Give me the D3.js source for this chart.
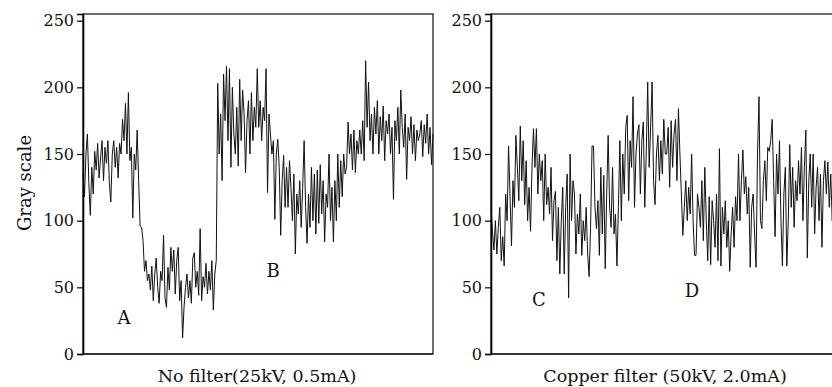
<!DOCTYPE html>
<html>
<head>
<meta charset="utf-8">
<script src="https://cdn.jsdelivr.net/npm/d3@7"></script>
<style>
  body { margin: 0; background: #fff; }
  svg { display: block; }
  text { font-family: "DejaVu Serif", "Liberation Serif", serif; fill: #111; }
</style>
</head>
<body>
<svg width="832" height="387"></svg>
<script>
// gray scale profile, no filter (25kV, 0.5mA)
const noFilter = [
  136, 118, 150, 165, 128, 104, 140, 120, 152, 138,
  158, 132, 147, 160, 130, 155, 143, 160, 128, 114,
  150, 160, 140, 155, 132, 158, 150, 176, 160, 188,
  150, 196, 145, 155, 102, 150, 138, 168, 130, 96,
  95, 85, 62, 70, 55, 60, 48, 66, 40, 60,
  72, 50, 38, 62, 55, 89, 42, 35, 65, 48,
  80, 62, 78, 45, 70, 80, 40, 55, 12, 35,
  50, 60, 42, 55, 38, 72, 76, 50, 62, 44,
  94, 40, 58, 50, 68, 45, 62, 48, 70, 33,
  60, 70, 203, 150, 180, 130, 210, 175, 216, 160,
  214, 140, 200, 165, 150, 185, 141, 206, 160, 198,
  180, 136, 175, 190, 150, 196, 160, 185, 170, 214,
  170, 190, 160, 185, 175, 214, 121, 180, 165, 150,
  160, 101, 150, 161, 140, 89, 130, 149, 110, 140,
  110, 145, 125, 100, 135, 75, 120, 105, 130, 95,
  125, 160, 110, 83, 120, 95, 140, 100, 135, 90,
  138, 98, 142, 105, 130, 84, 120, 110, 150, 100,
  125, 84, 130, 100, 150, 110, 145, 118, 150, 135,
  140, 174, 150, 165, 138, 168, 136, 160, 150, 168,
  150, 175, 145, 220, 170, 204, 160, 180, 150, 185,
  165, 190, 150, 178, 160, 186, 145, 175, 165, 180,
  150, 170, 116, 175, 160, 185, 150, 198, 170, 155,
  180, 131, 170, 160, 178, 150, 172, 145, 168, 160,
  165, 175, 148, 172, 158, 180, 150, 170, 142, 165
];

// gray scale profile, copper filter (50kV, 2.0mA)
const copperFilter = [
  110, 92, 78, 100, 75, 95, 110, 70, 88, 66,
  120, 100, 156, 118, 81, 130, 110, 164, 140, 115,
  171, 130, 160, 112, 145, 100, 125, 92, 140, 169,
  140, 169, 120, 150, 130, 145, 100, 150, 112, 125,
  105, 140, 85, 115, 122, 70, 110, 60, 100, 125,
  60, 110, 135, 42, 150, 100, 130, 120, 75, 105,
  90, 120, 74, 100, 85, 110, 75, 58, 95, 156,
  156, 110, 94, 115, 74, 140, 90, 134, 64, 120,
  164, 110, 95, 140, 90, 105, 66, 110, 160, 100,
  150, 120, 170, 179, 115, 160, 140, 193, 110, 150,
  165, 172, 120, 160, 174, 110, 150, 204, 140, 170,
  204, 130, 112, 150, 164, 130, 160, 135, 176, 150,
  150, 170, 125, 175, 140, 165, 176, 130, 184, 150,
  120, 89, 110, 130, 100, 125, 105, 150, 100, 74,
  74, 120, 110, 95, 130, 85, 140, 100, 70, 118,
  67, 115, 100, 80, 120, 70, 154, 66, 110, 90,
  115, 80, 100, 62, 90, 110, 80, 118, 100, 150,
  100, 130, 153, 120, 133, 105, 125, 65, 110, 120,
  90, 65, 150, 193, 100, 94, 130, 145, 115, 155,
  152, 160, 176, 130, 88, 150, 120, 160, 100, 66,
  120, 140, 66, 100, 157, 110, 140, 95, 130, 115,
  145, 120, 155, 100, 140, 168, 72, 130, 150, 110,
  150, 90, 125, 140, 100, 135, 80, 130, 145, 120,
  144, 110, 135, 100, 125, 112, 130, 105, 120, 110
];

const yTicks = [0, 50, 100, 150, 200, 250];
const panelTitles = ["No filter(25kV, 0.5mA)", "Copper filter (50kV, 2.0mA)"];
const regionLabels = [["A", "B"], ["C", "D"]];
const regionAt = [[[41, 22.5], [190, 58]], [[48, 36], [201, 43]]]; // [panel px, gray value at baseline]

const svg = d3.select("svg");
const plotTop = 14, plotBottom = 354, panelW = 350;
const panelX = [83, 491];

const y = d3.scaleLinear().domain([0, 255]).range([plotBottom, plotTop]);

const series = [noFilter, copperFilter];

series.forEach(function(values, p) {
  const x0 = panelX[p];
  const x = d3.scaleLinear().domain([0, values.length - 1]).range([x0, x0 + panelW]);
  const g = svg.append("g");

  // frame
  g.append("rect")
    .attr("x", x0).attr("y", plotTop)
    .attr("width", panelW).attr("height", plotBottom - plotTop)
    .attr("fill", "none").attr("stroke", "#222").attr("stroke-width", 1.3);

  g.append("path")
    .datum(values)
    .attr("fill", "none")
    .attr("stroke", "#111")
    .attr("stroke-width", 1)
    .attr("stroke-linejoin", "round")
    .attr("d", d3.line().x((d, i) => x(i)).y(d => y(d)));

  const axis = g.append("g")
    .attr("transform", "translate(" + x0 + ",0)")
    .call(d3.axisLeft(y).tickValues(yTicks).tickSize(6).tickPadding(3));
  axis.select(".domain").attr("stroke-width", 1.6);
  axis.selectAll(".tick line").attr("stroke-width", 1.2);
  axis.selectAll("text")
    .style("font-family", '"DejaVu Serif", serif')
    .style("font-size", "16px")
    .attr("fill", "#111");

  g.append("line")
    .attr("x1", x0).attr("x2", x0 + panelW)
    .attr("y1", plotBottom).attr("y2", plotBottom)
    .attr("stroke", "#222").attr("stroke-width", 1.6);

  g.append("text")
    .attr("x", x0 + panelW / 2 - 1)
    .attr("y", 382)
    .attr("text-anchor", "middle")
    .style("font-size", "17.5px")
    .text(panelTitles[p]);

  // region letters
  const px = d3.scaleLinear().domain([0, panelW]).range([x0, x0 + panelW]);
  regionLabels[p].forEach(function(lab, k) {
    const pos = regionAt[p][k];
    g.append("text")
      .attr("x", px(pos[0]))
      .attr("y", y(pos[1]))
      .attr("text-anchor", "middle")
      .style("font-size", "18px")
      .text(lab);
  });
});

svg.append("text")
  .attr("transform", "translate(31,183) rotate(-90)")
  .attr("text-anchor", "middle")
  .style("font-size", "18px")
  .text("Gray scale");
</script>
</body>
</html>
